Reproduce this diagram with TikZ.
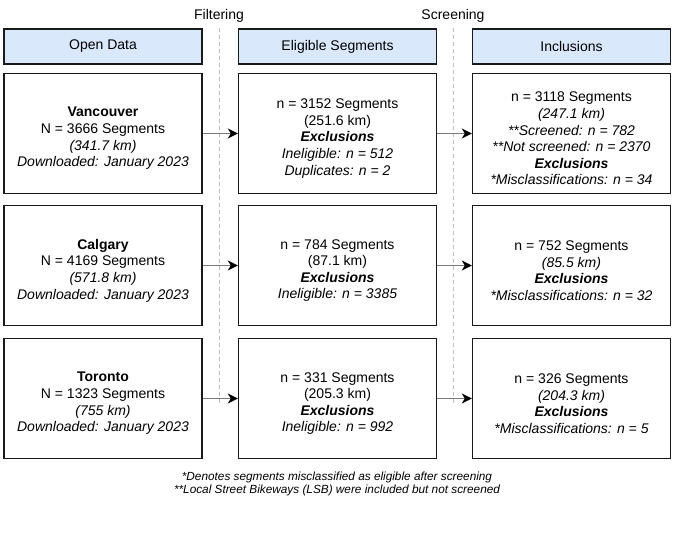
\documentclass[tikz,border=0pt]{standalone}
\usepackage{fontspec}
\setmainfont{Liberation Sans}
\usetikzlibrary{arrows.meta}
\definecolor{hdrfill}{HTML}{DAE8FC}
\definecolor{boxline}{HTML}{1A1A1A}
\definecolor{arrowgray}{HTML}{7A7A7A}
\definecolor{sepgray}{HTML}{BDBDBD}
\begin{document}
\begin{tikzpicture}[x=1pt,y=-1pt,
  hdr/.style={draw=boxline, fill=hdrfill, line width=1.4pt, minimum width=198pt, minimum height=35pt, inner sep=0pt, font=\fontsize{14}{16.6}\selectfont},
  cell/.style={draw=boxline, fill=white, line width=1.4pt, minimum width=198pt, minimum height=120pt, inner sep=0pt},
  txt/.style={align=center, font=\fontsize{14}{16.6}\selectfont, inner sep=0pt},
  toplab/.style={font=\fontsize{14}{16.6}\selectfont, inner sep=0pt},
  foot/.style={align=center, font=\fontsize{11.8}{13.2}\selectfont\itshape, inner sep=0pt},
  flow/.style={draw=arrowgray, line width=1.6pt, -{Stealth[black,length=10pt,width=10pt,inset=3pt]}},
  sepline/.style={draw=sepgray, line width=0.8pt, dash pattern=on 4pt off 3pt},
]
\useasboundingbox (0,0) rectangle (674,547);

% separators
\coordinate (s1t) at (219,28);
\coordinate (s1b) at (219,403);
\coordinate (s2t) at (453,28);
\coordinate (s2b) at (453,403);
\draw[sepline] (s1t) -- (s1b);
\draw[sepline] (s2t) -- (s2b);
\node[toplab] (lfilt) at (219,16) {Filtering};
\node[toplab] (lscr) at (453,16) {Screening};

% headers
\node[hdr] (h1) at (103,46.5) {Open Data};
\node[hdr] (h2) at (337.5,46.5) {Eligible Segments};
\node[hdr] (h3) at (571.5,46.5) {Inclusions};

% row 1
\node[cell] (a1) at (103,133.5) {};
\node[cell] (b1) at (337.5,133.5) {};
\node[cell] (c1) at (571.5,133.5) {};
\node[txt] (ta1) at ([yshift=-5pt]a1.center) {\textbf{Vancouver}\\N = 3666 Segments\\\textit{(341.7 km)}\\\textit{Downloaded: January 2023}};
\node[txt] (tb1) at ([yshift=-5pt]b1.center) {n = 3152 Segments\\(251.6 km)\\\textbf{\textit{Exclusions}}\\\textit{Ineligible: n = 512}\\\textit{Duplicates: n = 2}};
\node[txt] (tc1) at ([yshift=-5pt]c1.center) {n = 3118 Segments\\\textit{(247.1 km)}\\\textit{**Screened: n = 782}\\\textit{**Not screened: n = 2370}\\\textbf{\textit{Exclusions}}\\\textit{*Misclassifications: n = 34}};

% row 2
\node[cell] (a2) at (103,265.5) {};
\node[cell] (b2) at (337.5,265.5) {};
\node[cell] (c2) at (571.5,265.5) {};
\node[txt] (ta2) at ([yshift=-5pt]a2.center) {\textbf{Calgary}\\N = 4169 Segments\\\textit{(571.8 km)}\\\textit{Downloaded: January 2023}};
\node[txt] (tb2) at ([yshift=-5pt]b2.center) {n = 784 Segments\\(87.1 km)\\\textbf{\textit{Exclusions}}\\\textit{Ineligible: n = 3385}};
\node[txt] (tc2) at ([yshift=-5pt]c2.center) {n = 752 Segments\\\textit{(85.5 km)}\\\textbf{\textit{Exclusions}}\\\textit{*Misclassifications: n = 32}};

% row 3
\node[cell] (a3) at (103,398.5) {};
\node[cell] (b3) at (337.5,398.5) {};
\node[cell] (c3) at (571.5,398.5) {};
\node[txt] (ta3) at ([yshift=-5pt]a3.center) {\textbf{Toronto}\\N = 1323 Segments\\\textit{(755 km)}\\\textit{Downloaded: January 2023}};
\node[txt] (tb3) at ([yshift=-5pt]b3.center) {n = 331 Segments\\(205.3 km)\\\textbf{\textit{Exclusions}}\\\textit{Ineligible: n = 992}};
\node[txt] (tc3) at ([yshift=-5pt]c3.center) {n = 326 Segments\\\textit{(204.3 km)}\\\textbf{\textit{Exclusions}}\\\textit{*Misclassifications: n = 5}};

% arrows
\draw[flow] (a1.east) -- (b1.west);
\draw[flow] (b1.east) -- (c1.west);
\draw[flow] (a2.east) -- (b2.west);
\draw[flow] (b2.east) -- (c2.west);
\draw[flow] (a3.east) -- (b3.west);
\draw[flow] (b3.east) -- (c3.west);

% footnotes
\node[foot] (fn) at (337,484) {*Denotes segments misclassified as eligible after screening\\**Local Street Bikeways (LSB) were included but not screened};
\end{tikzpicture}
\end{document}
